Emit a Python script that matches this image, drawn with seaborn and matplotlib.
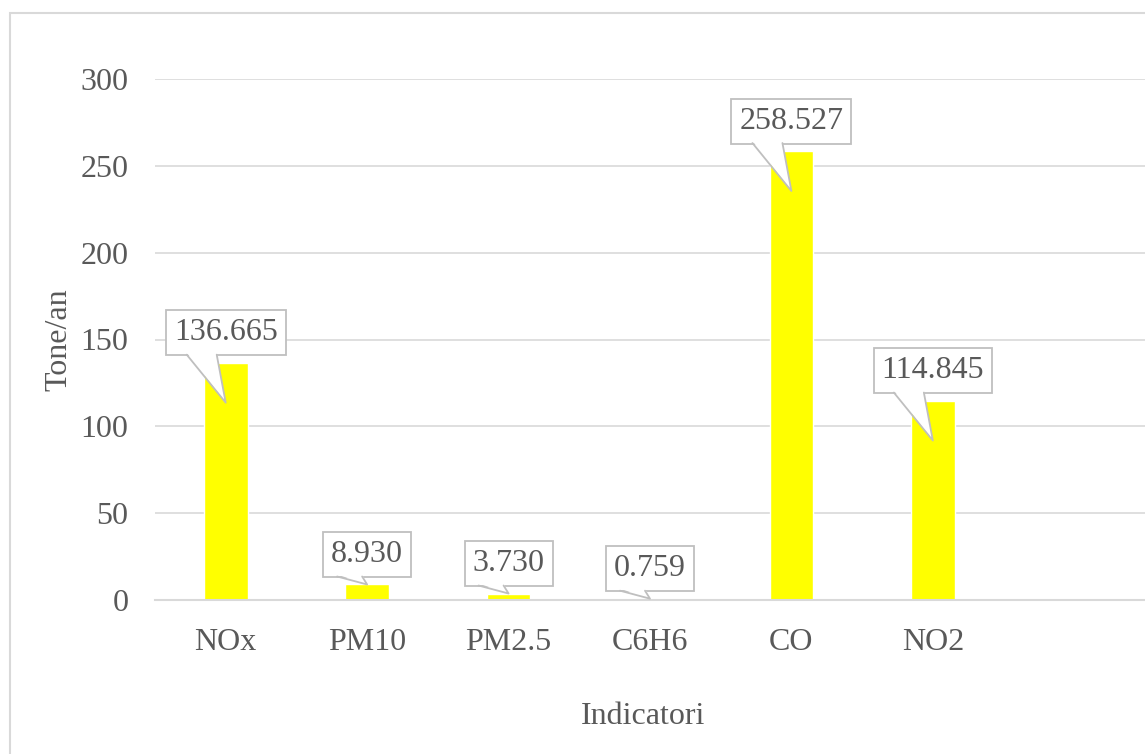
import numpy as np
import pandas as pd
import matplotlib
matplotlib.use("Agg")
import matplotlib.pyplot as plt
from matplotlib.patches import Rectangle, Polygon
from matplotlib.lines import Line2D
import seaborn as sns

# data
categories = ["NOx", "PM10", "PM2.5", "C6H6", "CO", "NO2"]
values = [136.665, 8.930, 3.730, 0.759, 258.527, 114.845]
value_labels = ["136.665", "8.930", "3.730", "0.759", "258.527", "114.845"]
y_ticks = [0, 50, 100, 150, 200, 250, 300]

df = pd.DataFrame({"Indicatori": categories, "Tone/an": values})

sns.set_theme(style="white")
plt.rcParams['font.family'] = ['Liberation Serif', 'DejaVu Serif']

TXT = "#595959"
GRID = "#d9d9d9"
EDGE = "#bfbfbf"
FS = 23

fig = plt.figure(figsize=(11.45, 7.54), dpi=100)
ax = fig.add_axes([155 / 1145, 1 - 600 / 754, 990 / 1145, 521 / 754])

sns.barplot(data=df, x="Indicatori", y="Tone/an", color="#FFFF00",
            saturation=1, width=0.31, ax=ax, zorder=3)

ax.set_xlim(-0.5, 6.5)
ax.set_ylim(0, 300)
ax.set_yticks(y_ticks)
ax.yaxis.grid(True, color=GRID, lw=1.2, zorder=0)
ax.xaxis.grid(False)
for s in ["top", "right", "left"]:
    ax.spines[s].set_visible(False)
ax.spines["bottom"].set_color(GRID)
ax.spines["bottom"].set_linewidth(1.5)
ax.spines["bottom"].set_zorder(4)
ax.tick_params(axis="y", length=0, pad=19, labelsize=FS, labelcolor=TXT)
ax.tick_params(axis="x", length=0, pad=20, labelsize=FS, labelcolor=TXT)
ax.set_xlabel("Indicatori", fontsize=FS, color=TXT)
ax.set_ylabel("Tone/an", fontsize=FS, color=TXT, labelpad=5)
ax.xaxis.set_label_coords(0.493, -0.195)

# outer chart border
fig.patches.append(Rectangle((10 / 1145, -0.05), 1.2, 0.05 + 1 - 13 / 754,
                             transform=fig.transFigure, fill=False,
                             edgecolor=GRID, lw=1.5, zorder=0))

# callout labels
fig.canvas.draw()
for i, (v, lab) in enumerate(zip(values, value_labels)):
    ax.annotate(lab, xy=(i, v), xytext=(0, 30 / 1.389), textcoords="offset points",
                ha="center", va="center", fontsize=FS, color=TXT, zorder=6,
                bbox=dict(boxstyle="square,pad=0.25", fc="white", ec=EDGE, lw=1.3))
    bx, by = ax.transData.transform((i, v))
    if v > 50:
        base_l, base_r, tip = -39, -9, -40
    else:
        base_l, base_r, tip = -30, -5, 0
    pts = [(bx + base_l, by + 10), (bx, by + tip), (bx + base_r, by + 10)]
    poly = Polygon(pts, closed=True, transform=None, fc="white", ec="none", zorder=7)
    fig.patches.append(poly)
    xs = [bx + base_l, bx, bx + base_r]
    ys = [by + 8, by + tip, by + 8]
    fig.lines.append(Line2D(xs, ys, transform=None, color=EDGE, lw=1.3, zorder=8))

fig.savefig("out.png", dpi=100)
